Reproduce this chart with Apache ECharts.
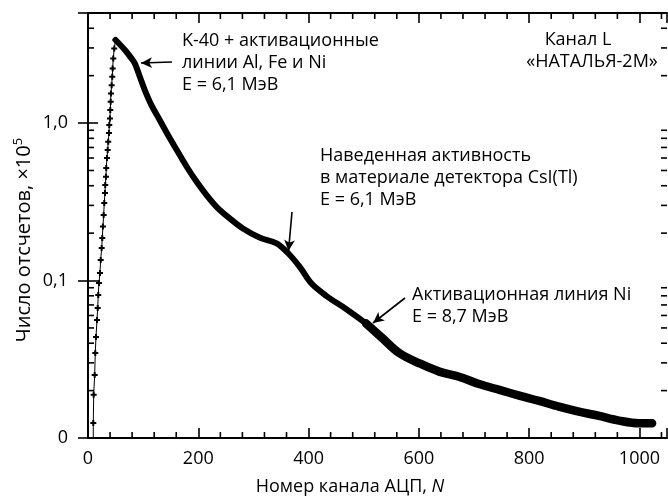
<!DOCTYPE html>
<html><head><meta charset="utf-8">
<script src="https://cdn.jsdelivr.net/npm/echarts@6/dist/echarts.min.js"></script>
<style>html,body{margin:0;padding:0;background:#fff}#c{width:668px;height:501px}</style>
</head><body><div id="c"></div>
<script>
// ---- data ----
const riseChannels = [9.5, 9.6, 10.3, 12.1, 13.2, 14.5, 16.3, 17.6, 18.6, 19.9, 21.7, 23.0, 24.8, 25.9, 27.1, 28.4, 29.5, 30.8, 31.3, 32.6, 33.1, 34.4, 35.7, 36.7, 38.0, 38.6, 39.8, 40.4, 41.1, 41.6, 42.9, 44.0, 44.7, 45.8, 47.6, 50.1];
const riseCounts   = [0.005, 0.01245, 0.0188, 0.0251, 0.0347, 0.0438, 0.0561, 0.0669, 0.0809, 0.0965, 0.1116, 0.135, 0.161, 0.186, 0.220, 0.261, 0.311, 0.360, 0.404, 0.456, 0.518, 0.600, 0.674, 0.761, 0.864, 0.971, 1.07, 1.21, 1.365, 1.54, 1.74, 1.97, 2.22, 2.57, 2.98, 3.37];
const decayChannels = [50, 67, 79, 85, 94, 103, 115, 130, 145, 161, 179, 197, 215, 233, 257, 281, 311, 342, 363, 384, 405, 432, 468, 504];
const decayCounts   = [3.37, 2.91, 2.57, 2.39, 1.97, 1.62, 1.30, 1.045, 0.839, 0.674, 0.528, 0.424, 0.349, 0.294, 0.248, 0.214, 0.1875, 0.172, 0.149, 0.122, 0.096, 0.080, 0.066, 0.0535];
const tailChannels = [504, 534, 565, 601, 637, 673, 709, 746, 782, 818, 854, 890, 927, 963, 999, 1023];
const tailCounts   = [0.0535, 0.043, 0.0345, 0.0298, 0.0264, 0.0245, 0.022, 0.0202, 0.0186, 0.0172, 0.0158, 0.0147, 0.0138, 0.0129, 0.0124, 0.0124];
const xTickLabels = [0, 200, 400, 600, 800, 1000];
const xMinorTicks = [40, 80, 120, 160, 240, 280, 320, 360, 440, 480, 520, 560, 640, 680, 720, 760, 840, 880, 920, 960, 1040];
const yTickValues = [0.01, 0.1, 1];
const yTickLabels = ['0', '0,1', '1,0'];
const yMinorTicks = [0.02, 0.03, 0.04, 0.05, 0.06, 0.07, 0.08, 0.09, 0.2, 0.3, 0.4, 0.5, 0.6, 0.7, 0.8, 0.9, 2, 3, 4];
const xMin = 0, xMax = 1050, yMin = 0.01, yMax = 5;

const FONT = '"Open Sans", "Noto Sans", sans-serif';
const pair = (xs, ys) => xs.map((x, i) => [x, ys[i]]);
const plus = 'path://M2,0H4V2H6V4H4V6H2V4H0V2H2Z';

const chart = echarts.init(document.getElementById('c'), null, {renderer: 'canvas'});

function yLabel(v) {
  for (let i = 0; i < yTickValues.length; i++) {
    if (Math.abs(Math.log10(v) - Math.log10(yTickValues[i])) < 1e-6) return yTickLabels[i];
  }
  return '';
}
function xLabel(v) {
  return xTickLabels.indexOf(v) >= 0 ? String(v) : '';
}

const axisLine = {show: true, lineStyle: {color: '#000', width: 2}};
const tickStyle = {color: '#000', width: 1.6};
const txt = (x, y, text, align) => ({type: 'text', x, y, style: {text, font: '18px ' + FONT, fill: '#000', lineHeight: 22, align, textAlign: align, verticalAlign: 'top', textVerticalAlign: 'top'}});

const option = {
  animation: false,
  backgroundColor: '#fff',
  grid: {left: 88, top: 13, right: 1, bottom: 63, outerBoundsMode: 'none'},
  xAxis: [{
    type: 'value', min: xMin, max: xMax, interval: 200, position: 'bottom',
    axisLine, splitLine: {show: false},
    axisTick: {show: true, inside: true, length: 10, lineStyle: tickStyle},
    axisLabel: {formatter: xLabel, fontFamily: FONT, fontSize: 18, color: '#000', margin: 12}
  }, {
    type: 'value', min: xMin, max: xMax, interval: 200, position: 'top',
    axisLine, splitLine: {show: false},
    axisTick: {show: true, inside: true, length: 10, lineStyle: tickStyle},
    axisLabel: {show: false}
  }],
  yAxis: [{
    type: 'log', logBase: 10, min: yMin, max: yMax, position: 'left',
    axisLine, splitLine: {show: false},
    axisTick: {show: true, inside: true, length: 10, lineStyle: tickStyle},
    axisLabel: {formatter: yLabel, fontFamily: FONT, fontSize: 18, color: '#000', margin: 20}
  }, {
    type: 'log', logBase: 10, min: yMin, max: yMax, position: 'right',
    axisLine, splitLine: {show: false},
    axisTick: {show: true, inside: true, length: 10, lineStyle: tickStyle},
    axisLabel: {show: false}
  }],
  series: [
    {
      type: 'line', data: pair(riseChannels, riseCounts),
      symbol: (v, p) => p.dataIndex === 0 ? 'none' : plus, symbolSize: 6,
      itemStyle: {color: '#000'}, lineStyle: {color: '#000', width: 1},
      clip: true, z: 3
    },
    {
      type: 'line', data: pair(decayChannels, decayCounts), smooth: 0.35,
      showSymbol: false, symbol: 'none',
      lineStyle: {color: '#000', width: 6, cap: 'round', join: 'round'}, z: 3,
      markLine: {
        silent: true, symbol: ['none', 'arrow'], symbolSize: [8, 11],
        label: {show: false},
        lineStyle: {color: '#000', width: 1.6, type: 'solid'},
        data: [
          [{x: 172, y: 62}, {x: 141, y: 63}],
          [{x: 292, y: 212}, {x: 288.5, y: 251}],
          [{x: 405, y: 298}, {x: 373, y: 323}]
        ]
      }
    },
    {
      type: 'line', data: pair(tailChannels, tailCounts), smooth: 0.35,
      showSymbol: false, symbol: 'none',
      lineStyle: {color: '#000', width: 8.5, cap: 'round', join: 'round'}, z: 3
    },
    {
      type: 'custom', silent: true, z: 5, clip: false,
      data: yMinorTicks.map(v => [xMin, v]),
      renderItem: (params, api) => {
        const cs = params.coordSys;
        const y = api.coord([xMin, api.value(1)])[1];
        return {type: 'group', children: [
          {type: 'line', shape: {x1: cs.x, y1: y, x2: cs.x + 6, y2: y}, style: {stroke: '#000', lineWidth: 1.6}},
          {type: 'line', shape: {x1: cs.x + cs.width - 6, y1: y, x2: cs.x + cs.width, y2: y}, style: {stroke: '#000', lineWidth: 1.6}}
        ]};
      }
    },
    {
      type: 'custom', silent: true, z: 5, clip: false,
      data: xMinorTicks.map(v => [v, yMin]),
      renderItem: (params, api) => {
        const cs = params.coordSys;
        const x = api.coord([api.value(0), yMin])[0];
        const yb = cs.y + cs.height;
        return {type: 'group', children: [
          {type: 'line', shape: {x1: x, y1: yb, x2: x, y2: yb - 6}, style: {stroke: '#000', lineWidth: 1.6}},
          {type: 'line', shape: {x1: x, y1: cs.y, x2: x, y2: cs.y + 6}, style: {stroke: '#000', lineWidth: 1.6}}
        ]};
      }
    }
  ],
  graphic: [
    txt(182, 30, 'K-40 + активационные\nлинии Al, Fe и Ni\nE = 6,1 МэВ', 'left'),
    txt(578, 29, 'Канал L', 'center'),
    txt(592, 51, '«НАТАЛЬЯ-2М»', 'center'),
    txt(320, 145, 'Наведенная активность\nв материале детектора CsI(Tl)\nE = 6,1 МэВ', 'left'),
    txt(412, 284, 'Активационная линия Ni\nE = 8,7 МэВ', 'left'),
    {type: 'text', x: 350, y: 487, style: {
      text: '{a|Номер канала АЦП, }{i|N}', align: 'center', textAlign: 'center', verticalAlign: 'middle', textVerticalAlign: 'middle',
      rich: {a: {fontFamily: FONT, fontSize: 18, color: '#000'}, i: {fontFamily: FONT, fontSize: 18, fontStyle: 'italic', color: '#000'}}
    }},
    {type: 'text', x: 24, y: 240, rotation: Math.PI / 2, style: {
      text: '{a|Число отсчетов, ×10}{s|5}', align: 'center', textAlign: 'center', verticalAlign: 'middle', textVerticalAlign: 'middle',
      rich: {a: {fontFamily: FONT, fontSize: 20, color: '#000', lineHeight: 24}, s: {fontFamily: FONT, fontSize: 13, color: '#000', verticalAlign: 'top', lineHeight: 13}}
    }}
  ]
};
chart.setOption(option);
</script>
</body></html>
